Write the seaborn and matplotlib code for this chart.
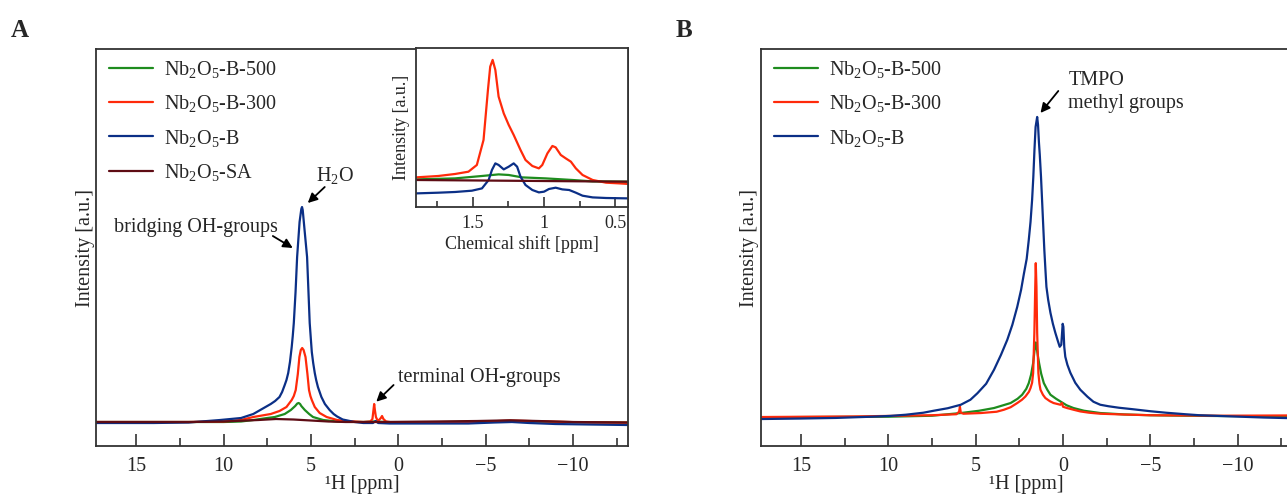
import matplotlib
matplotlib.use("Agg")
import matplotlib.pyplot as plt
from matplotlib.ticker import MultipleLocator
import seaborn as sns

# ---- panel A: 1H MAS NMR (values in a.u.) ----
a_ppm_b500 = [17.3, 10, 9, 8.3, 7.5, 7.07, 6.5, 6.15, 5.9, 5.78, 5.7, 5.62, 5.55, 5.35, 5.1, 4.88,
              4.3, 3.5, 2, 1.4, 0, -3, -6.4, -9, -13.15]
a_int_b500 = [0, 0, 0.5, 2, 4, 5, 8, 12, 16, 18.5, 19, 18, 16, 12, 8, 5,
              2, 0.5, 0, 0.5, -0.5, 0, 1, 0, -0.5]

a_ppm_b300 = [17.3, 12, 10, 9, 8.3, 7.3, 6.8, 6.4, 6.1, 5.98, 5.87, 5.75, 5.66, 5.58, 5.5, 5.42,
              5.31, 5.2, 5.11, 5.03, 4.95, 4.78, 4.5, 4.1, 3.5, 3.0, 2.5, 2.0, 1.6, 1.48, 1.42,
              1.38, 1.34, 1.28, 1.2, 1.1, 1.0, 0.93, 0.85, 0.7, 0.3, -2, -4.5, -6.4, -8.5, -11,
              -13.15]
a_int_b300 = [0, 0, 0.5, 2, 5, 8, 11, 15, 22, 26, 32, 48, 65, 72, 74, 72,
              65, 48, 32, 26, 22, 15, 9, 5, 2, 1, 0.5, 0, 0.5, 3, 12,
              18, 12, 5, 2, 2, 4, 6, 3, 0.5, -0.5, -0.5, 0, 1.5, 0.5, -0.5,
              -0.7]

a_ppm_b = [17.3, 14, 12, 10.2, 9, 8.3, 7.9, 7.6, 7.3, 7.05, 6.8, 6.65, 6.5, 6.4, 6.3, 6.2, 6.1,
           6.04, 5.98, 5.88, 5.79, 5.65, 5.55, 5.51, 5.47, 5.38, 5.22, 5.07, 5.0, 4.95, 4.87,
           4.78, 4.7, 4.6, 4.5, 4.4, 4.2, 3.93, 3.7, 3.5, 3.18, 2.5, 2.0, 1.45, 1.3, 1.15, 0.5,
           -2, -4, -5.5, -6.5, -7.5, -9, -11, -13.15]
a_int_b = [-1, -1, -0.5, 2, 4, 8, 12, 15, 18, 21, 25, 30, 37, 42, 49, 60, 75,
           86, 99, 130, 165, 200, 213, 215, 212, 195, 165, 99, 82, 70, 59,
           49, 42, 35, 30, 25, 18, 12, 8, 5.5, 2.5, 0, -1, -1, 1, -1, -1.5,
           -1.5, -1.5, -0.5, 0, -1, -2, -2.5, -3]

a_ppm_sa = [17.3, 12, 10, 8, 7, 6, 5, 4, 3, 1, -2, -4.5, -6.4, -8, -10, -13.15]
a_int_sa = [0, 0, 0.5, 2, 3, 2.5, 1.5, 0.5, 0, 0, 0.5, 1, 1.7, 1, 0, -0.5]

# ---- inset of panel A (0.4 - 1.9 ppm) ----
in_ppm_b300 = [1.901, 1.743, 1.625, 1.531, 1.472, 1.425, 1.394, 1.378, 1.361, 1.342, 1.319, 1.283,
               1.248, 1.213, 1.165, 1.130, 1.082, 1.036, 1.012, 0.976, 0.941, 0.918, 0.882, 0.847,
               0.811, 0.776, 0.729, 0.658, 0.564, 0.470, 0.403]
in_int_b300 = [3.3, 4.7, 6.7, 9, 15.7, 40.7, 90.7, 114, 120.7, 110.7, 84, 67.3,
               55.7, 45.7, 30.7, 20.7, 14.7, 12.3, 15.7, 27.3, 34.7, 33.3, 25.7, 22.3,
               19, 12.3, 5.7, 0.7, -2, -2.7, -3.3]

in_ppm_b = [1.901, 1.743, 1.625, 1.507, 1.436, 1.389, 1.366, 1.342, 1.319, 1.283, 1.248, 1.213,
            1.189, 1.165, 1.130, 1.082, 1.036, 1.0, 0.965, 0.918, 0.871, 0.823, 0.776, 0.729,
            0.658, 0.564, 0.403]
in_int_b = [-12.7, -12, -11.3, -10, -7.7, 0.7, 10.7, 17.3, 15.7, 11.3, 14, 17.3,
            14, 4, -4.3, -9.3, -11.7, -11, -8.3, -7, -8.7, -9.3, -12, -15,
            -16.7, -17.3, -17.7]

in_ppm_b500 = [1.901, 1.625, 1.436, 1.319, 1.248, 1.153, 0.988, 0.800, 0.658, 0.403]
in_int_b500 = [1.3, 2.3, 4.7, 6.3, 5.7, 3.3, 2.3, 0.7, -0.7, -1]

in_ppm_sa = [1.901, 1.3, 0.403]
in_int_sa = [0.7, 0, -1]

# ---- panel B: TMPO adsorbed ----
b_ppm_b500 = [17.3, 10, 7.5, 5.85, 4.8, 3.95, 3.0, 2.6, 2.34, 2.1, 1.96, 1.83, 1.71, 1.62, 1.56,
              1.5, 1.43, 1.37, 1.25, 1.1, 0.9, 0.72, 0.4, 0.15, -0.2, -0.6, -1.2, -2.13, -3.5,
              -5, -7, -9, -13.15]
b_int_b500 = [-0.5, 0, 1, 3.7, 6, 8.7, 13.7, 18, 22, 28, 33.7, 42, 53.7, 68, 74.3,
              68, 60, 53.7, 43, 33.7, 27, 22, 18, 15.3, 11.5, 8.7, 6, 3.7, 2.3,
              1.5, 1, 0.7, 0.5]

b_ppm_b300 = [17.3, 12, 10, 7.5, 6.1, 5.95, 5.9, 5.85, 5.7, 4.7, 3.8, 3.38, 3.0, 2.62, 2.35,
              2.15, 1.95, 1.86, 1.77, 1.71, 1.64, 1.59, 1.56, 1.52, 1.48, 1.41, 1.35, 1.29,
              1.15, 1.01, 0.75, 0.54, 0.15, 0.06, 0.0, -0.23, -0.6, -0.99, -1.5, -2.13, -3.5,
              -5, -9, -13.15]
b_int_b300 = [-0.3, 0.3, 0.8, 1.5, 2.5, 5, 10, 4, 3, 3.7, 5, 7, 9.5, 13.7, 17,
              20.3, 25, 28.7, 34, 43.7, 84, 130, 153.7, 130, 84, 43.7, 33, 27,
              22, 18.7, 15.5, 13.7, 12, 13.7, 10, 8.7, 7, 5.3, 4, 3, 2.2,
              1.5, 1.0, 1.3]

b_ppm_b = [17.3, 15, 13, 11, 9.9, 9, 8, 7.4, 6.6, 5.85, 5.3, 4.9, 4.4, 3.95, 3.55, 3.19, 2.9,
           2.62, 2.4, 2.24, 2.08, 1.96, 1.86, 1.77, 1.7, 1.635, 1.57, 1.48, 1.43, 1.38, 1.33,
           1.26, 1.2, 1.13, 1.07, 1.0, 0.95, 0.85, 0.72, 0.58, 0.44, 0.3, 0.19, 0.1, 0.05, 0.02,
           -0.02, -0.07, -0.13, -0.25, -0.42, -0.7, -0.99, -1.4, -1.74, -2.13, -2.6, -3.2, -4,
           -5, -5.9, -7, -7.8, -9.7, -11.5, -13.15]
b_int_b = [-2.3, -1.8, -1.2, 0, 0.8, 2, 4, 6, 8.5, 12, 17, 23.5, 33, 47, 62, 77, 92,
           110, 127, 143, 158, 177, 195, 217, 240, 267, 290, 300, 292, 275, 262,
           240, 217, 190, 167, 145, 130, 117, 104, 93, 84, 76, 70, 72, 85, 93,
           90, 70, 60, 52, 44, 34, 27, 20, 15, 12, 10.5, 9, 7.5,
           5.5, 4, 2.5, 1.5, 0.3, -0.8, -1.5]

labels = ['Nb$_2$O$_5$-B-500', 'Nb$_2$O$_5$-B-300', 'Nb$_2$O$_5$-B', 'Nb$_2$O$_5$-SA']
colors = ['#1e8c1e', '#ff2a0a', '#0b2f86', '#5e0c14']
xticks = [15, 10, 5, 0, -5, -10]
inset_ticks = [1.5, 1.0, 0.5]

sns.set_style('ticks')
plt.rcParams['font.family'] = ['Liberation Serif', 'DejaVu Serif']
plt.rcParams['mathtext.fontset'] = 'custom'
plt.rcParams['mathtext.rm'] = 'Liberation Serif'
plt.rcParams['mathtext.it'] = 'Liberation Serif:italic'
plt.rcParams['axes.unicode_minus'] = True

fig = plt.figure(figsize=(12.87, 4.97), dpi=100)
axA = fig.add_axes([0.0746, 0.1026, 0.4134, 0.7988])
axB = fig.add_axes([0.5911, 0.1026, 0.4134, 0.7988])
axI = fig.add_axes([0.3232, 0.5841, 0.1647, 0.3187])

lw = 1.6
spine_c = '#333333'


def style_axis(ax, fs, major_len, minor_len, pad):
    for s in ax.spines.values():
        s.set_linewidth(1.3)
        s.set_color(spine_c)
    ax.set_yticks([])
    ax.tick_params(axis='x', direction='in', length=major_len, width=1.2,
                   labelsize=fs, color=spine_c, pad=pad)
    ax.tick_params(axis='x', which='minor', direction='in', length=minor_len, width=1.2,
                   color=spine_c)
    ax.tick_params(axis='y', which='both', left=False, right=False)


leg_kw = dict(loc='upper left', bbox_to_anchor=(0.024, 0.975), frameon=False, fontsize=14.5,
              handlelength=2.2, handletextpad=0.55, labelspacing=0.66, borderpad=0,
              borderaxespad=0)
arrow = dict(arrowstyle='-|>', color='black', lw=1.3, mutation_scale=14, shrinkA=0, shrinkB=0)

# panel A
series_a = [(a_ppm_b500, a_int_b500), (a_ppm_b300, a_int_b300), (a_ppm_b, a_int_b), (a_ppm_sa, a_int_sa)]
for (x, y), lab, c in zip(series_a, labels, colors):
    sns.lineplot(x=x, y=y, ax=axA, color=c, lw=lw, label=lab, sort=False, estimator=None)
axA.set_xlim(17.3, -13.15)
axA.set_ylim(-24, 373)
axA.set_xticks(xticks)
axA.xaxis.set_minor_locator(MultipleLocator(2.5))
style_axis(axA, 14.5, 9, 5.5, 8)
axA.set_xlabel('¹H [ppm]', fontsize=14.5, labelpad=-1)
axA.set_ylabel('Intensity [a.u.]', fontsize=14.5, labelpad=1)
axA.legend(**leg_kw)

axA.text(4.70, 247, 'H$_2$O', fontsize=14.5, va='center', ha='left')
axA.annotate('', xy=(5.18, 219), xytext=(4.21, 235), arrowprops=arrow)
axA.text(6.90, 195, 'bridging OH-groups', fontsize=14.5, va='center', ha='right')
axA.annotate('', xy=(6.04, 174), xytext=(7.18, 186), arrowprops=arrow)
axA.text(0.04, 45, 'terminal OH-groups', fontsize=14.5, va='center', ha='left')
axA.annotate('', xy=(1.26, 20.3), xytext=(0.27, 37), arrowprops=arrow)

# inset
series_i = [(in_ppm_b500, in_int_b500), (in_ppm_b300, in_int_b300), (in_ppm_b, in_int_b), (in_ppm_sa, in_int_sa)]
for (x, y), c in zip(series_i, colors):
    sns.lineplot(x=x, y=y, ax=axI, color=c, lw=lw, sort=False, estimator=None, legend=False)
axI.set_xlim(1.9, 0.41)
axI.set_ylim(-26, 132.3)
axI.set_xticks(inset_ticks)
axI.set_xticklabels(['1.5', '1', '0.5'])
axI.xaxis.set_minor_locator(MultipleLocator(0.25))
style_axis(axI, 13, 7, 4.5, 6)
axI.set_xlabel('Chemical shift [ppm]', fontsize=13, labelpad=2)
axI.set_ylabel('Intensity [a.u.]', fontsize=13, labelpad=4)

# panel B
series_b = [(b_ppm_b500, b_int_b500), (b_ppm_b300, b_int_b300), (b_ppm_b, b_int_b)]
for (x, y), lab, c in zip(series_b, labels[:3], colors[:3]):
    sns.lineplot(x=x, y=y, ax=axB, color=c, lw=lw, label=lab, sort=False, estimator=None)
axB.set_xlim(17.3, -13.15)
axB.set_ylim(-29.3, 368)
axB.set_xticks(xticks)
axB.xaxis.set_minor_locator(MultipleLocator(2.5))
style_axis(axB, 14.5, 9, 5.5, 8)
axB.set_xlabel('¹H [ppm]', fontsize=14.5, labelpad=-1)
axB.set_ylabel('Intensity [a.u.]', fontsize=14.5, labelpad=1)
axB.legend(**leg_kw)
axB.text(-0.3, 325, 'TMPO\nmethyl groups', fontsize=14.5, va='center', ha='left', linespacing=1.25)
axB.annotate('', xy=(1.29, 304), xytext=(0.27, 326), arrowprops=arrow)

fig.text(0.0085, 0.938, 'A', fontsize=18, fontweight='bold', va='center', ha='left')
fig.text(0.5253, 0.938, 'B', fontsize=18, fontweight='bold', va='center', ha='left')

fig.savefig('out.png', dpi=100)
